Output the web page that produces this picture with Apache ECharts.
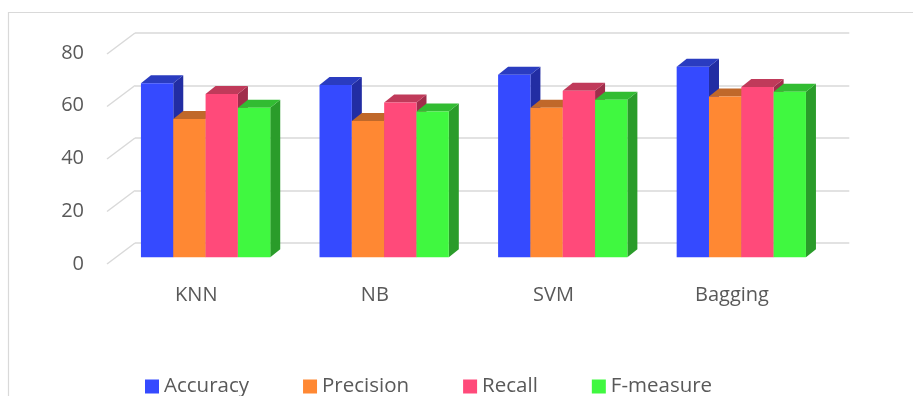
<!DOCTYPE html>
<html>
<head>
<meta charset="utf-8">
<script src="https://cdn.jsdelivr.net/npm/echarts@6/dist/echarts.min.js"></script>
<style>
  html, body { margin: 0; padding: 0; background: #ffffff; }
  #chart { width: 913px; height: 396px; }
</style>
</head>
<body>
<div id="chart"></div>
<script>
// Classifier comparison, four metrics per model
const categories = ['KNN', 'NB', 'SVM', 'Bagging'];
const seriesNames = ['Accuracy', 'Precision', 'Recall', 'F-measure'];
const accuracy = [66.2, 65.5, 69.4, 72.5];
const precision = [52.6, 51.8, 56.9, 61.1];
const recall = [62.1, 58.9, 63.3, 64.8];
const fMeasure = [56.9, 55.4, 59.9, 62.9];
const yTicks = [0, 20, 40, 60, 80];

const values = [accuracy, precision, recall, fMeasure];

// Face shades for the extruded columns: front, top, right side
const shades = [
  { front: '#354aff', top: '#2a3cc0', side: '#222da3' },
  { front: '#ff8833', top: '#c0682a', side: '#a35a24' },
  { front: '#ff4a7a', top: '#c03a5a', side: '#a02d4b' },
  { front: '#40f840', top: '#32bc32', side: '#2a9c2a' }
];

const FONT = "'Open Sans', sans-serif";
const TEXT = '#595959';
const GRID_LINE = '#d9d9d9';

// Pseudo-3D offsets (pixels): column depth and wall depth
const DX = 10, DY = -8;
const WALL_DX = 28, WALL_DY = -21;
const GROUP_FRACTION = 0.724;

const yMin = yTicks[0], yMax = yTicks[yTicks.length - 1], yStep = yTicks[1] - yTicks[0];

function valueAxis(gridIndex, showLabels, extra) {
  return Object.assign({
    type: 'value', gridIndex: gridIndex, min: yMin, max: yMax, interval: yStep,
    axisLine: { show: false }, axisTick: { show: false },
    axisLabel: { show: showLabels },
    splitLine: { show: false }
  }, extra || {});
}

function categoryAxis(gridIndex, showLabels, extra) {
  return Object.assign({
    type: 'category', gridIndex: gridIndex, data: categories,
    axisLine: { show: false }, axisTick: { show: false },
    axisLabel: { show: showLabels },
    splitLine: { show: false }
  }, extra || {});
}

function columnRenderer(k) {
  const shade = shades[k];
  return function (params, api) {
    const ci = api.value(0);
    const v = api.value(1);
    const top = api.coord([ci, v]);
    const base = api.coord([ci, 0]);
    const band = api.size([1, 0])[0];
    const bw = band * GROUP_FRACTION / seriesNames.length;
    const x0 = top[0] + (k - seriesNames.length / 2) * bw;
    const x1 = x0 + bw;
    const yT = top[1], yB = base[1];
    return {
      type: 'group',
      children: [
        { type: 'polygon', shape: { points: [[x1, yB], [x1 + DX, yB + DY], [x1 + DX, yT + DY], [x1, yT]] },
          style: { fill: shade.side } },
        { type: 'polygon', shape: { points: [[x0, yT], [x0 + DX, yT + DY], [x1 + DX, yT + DY], [x1, yT]] },
          style: { fill: shade.top } },
        { type: 'rect', shape: { x: x0, y: yT, width: bw, height: yB - yT },
          style: { fill: shade.front } }
      ]
    };
  };
}

// Side-wall gridlines running from the front edge back to the back wall
function wallRenderer(params, api) {
  const v = api.value(0);
  const p = api.coord([0, v]);
  const band = api.size([1, 0])[0];
  const xb = p[0] - band / 2;
  return {
    type: 'line',
    shape: { x1: xb - WALL_DX, y1: p[1] - WALL_DY, x2: xb, y2: p[1] },
    style: { stroke: GRID_LINE, lineWidth: 1.5 }
  };
}

const chart = echarts.init(document.getElementById('chart'), null, { renderer: 'canvas' });

const columnSeries = seriesNames.map(function (name, k) {
  return {
    name: name,
    type: 'custom',
    xAxisIndex: 0, yAxisIndex: 0,
    renderItem: columnRenderer(k),
    itemStyle: { color: shades[k].front },
    encode: { x: 0, y: 1 },
    data: categories.map(function (c, i) { return [i, values[k][i]]; }),
    silent: true
  };
});

chart.setOption({
  animation: false,
  backgroundColor: '#ffffff',
  textStyle: { fontFamily: FONT },
  grid: [
    // column plane
    { left: 116.3, right: 82.4, top: 46.9, bottom: 138.7 },
    // back wall
    { left: 135, right: 63.7, top: 33, bottom: 153 },
    // front edge (axis labels)
    { left: 107, right: 91.7, top: 53, bottom: 132 }
  ],
  xAxis: [
    categoryAxis(0, false),
    categoryAxis(1, false),
    categoryAxis(2, true, {
      axisLabel: { show: true, color: TEXT, fontSize: 20, fontFamily: FONT, margin: 21 }
    })
  ],
  yAxis: [
    valueAxis(0, false),
    valueAxis(1, false, { splitLine: { show: true, lineStyle: { color: GRID_LINE, width: 1.5 } } }),
    valueAxis(2, true, {
      axisLabel: { show: true, color: TEXT, fontSize: 20, fontFamily: FONT, margin: 23 }
    })
  ],
  legend: {
    data: seriesNames.map(function (n) { return { name: n, icon: 'rect' }; }),
    left: 140, top: 371,
    itemWidth: 14, itemHeight: 14, itemGap: 54,
    textStyle: { color: TEXT, fontSize: 20.5, fontFamily: FONT },
    selectedMode: false
  },
  graphic: [
    { type: 'rect', left: 6, top: 10, silent: true,
      shape: { x: 0, y: 0, width: 1000, height: 500 },
      style: { fill: 'none', stroke: GRID_LINE, lineWidth: 1.2 } }
  ],
  series: [
    {
      type: 'custom',
      xAxisIndex: 1, yAxisIndex: 1,
      renderItem: wallRenderer,
      encode: { y: 0 },
      data: yTicks.map(function (t) { return [t]; }),
      silent: true,
      z: 1
    }
  ].concat(columnSeries)
});
</script>
</body>
</html>
